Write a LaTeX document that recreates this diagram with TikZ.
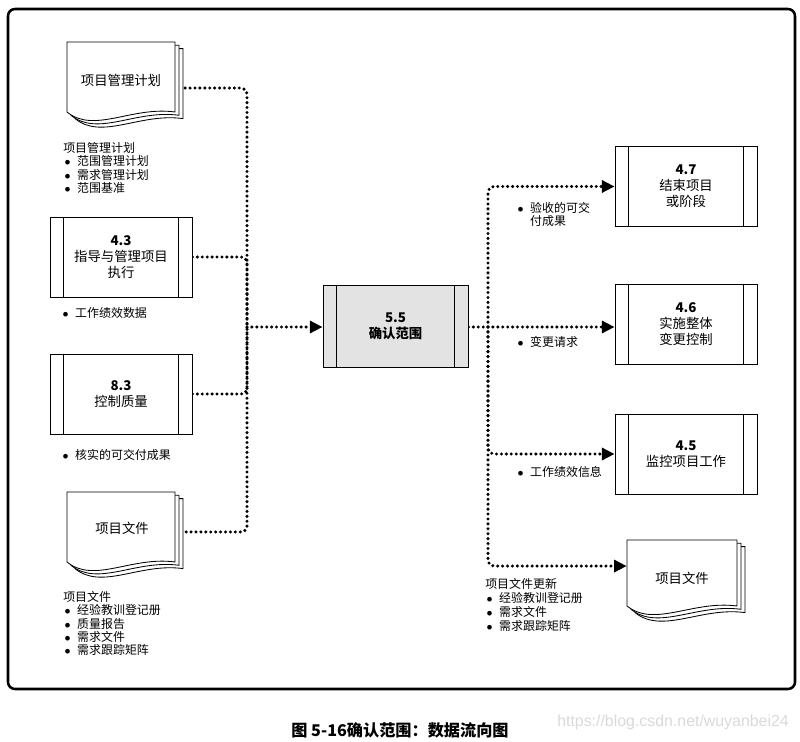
\documentclass[tikz,border=0pt]{standalone}
\usepackage{fontspec}
\setmainfont{Noto Sans CJK SC}
\newfontfamily\wmfont{Liberation Sans}
\usetikzlibrary{arrows.meta,backgrounds}

\tikzset{
  procbox/.style={draw, line width=0.6pt, fill=white, minimum width=3.55cm, minimum height=2cm,
    align=center, font=\fontsize{9.5pt}{11.5pt}\selectfont,
    path picture={
      \draw[line width=0.6pt] ([xshift=0.33cm]path picture bounding box.north west) -- ([xshift=0.33cm]path picture bounding box.south west);
      \draw[line width=0.6pt] ([xshift=-0.33cm]path picture bounding box.north east) -- ([xshift=-0.33cm]path picture bounding box.south east);}},
  doctext/.style={minimum width=2.7cm, minimum height=1.6cm, font=\fontsize{9.5pt}{11.5pt}\selectfont},
  listtext/.style={anchor=north west, inner sep=0pt, align=left, font=\fontsize{8.5pt}{9.5pt}\selectfont},
  flow/.style={line width=2.4pt, dash pattern=on 0pt off 3.5pt, line cap=round, rounded corners=4pt},
  flowarrow/.style={flow, -{Triangle[length=9pt, width=8.5pt]}},
}
\newcommand\bul{\makebox[9.9pt][l]{\hspace{1pt}$\bullet$}}
% x, y, width, height of the front sheet
\newcommand\docstack[4]{%
  \foreach \k in {2,1,0}{
    \begin{scope}[shift={(#1+4*\k,#2+3.3*\k)}]
      \draw[fill=white, line width=0.6pt] (0,0) -- (#3,0) -- (#3,#4)
        .. controls (0.6*#3,#4-6) and (0.25*#3,#4+22) .. (0,#4) -- cycle;
    \end{scope}
  }
}

\begin{document}
\begin{tikzpicture}[x=0.025cm, y=-0.025cm]
  \useasboundingbox (0,0) rectangle (800,741);

  %%%%% FRAME %%%%%
  \draw[line width=1.8pt, rounded corners=5pt] (8,9) rectangle (795,689);

  %%%%% INPUTS %%%%%
  \docstack{67}{42}{108}{70}
  \node[doctext] (pmp) at (121,80) {项目管理计划};
  \node[listtext] (pmplist) at (63,142) {项目管理计划\\ \bul 范围管理计划\\ \bul 需求管理计划\\ \bul 范围基准};

  \node[procbox] (direct) at (121,257) {\textbf{4.3}\\ 指导与管理项目\\ 执行};
  \node[listtext] (directlist) at (61,307) {\bul 工作绩效数据};

  \node[procbox] (quality) at (121,394) {\textbf{8.3}\\ 控制质量};
  \node[listtext] (qualitylist) at (61,449) {\bul 核实的可交付成果};

  \docstack{67}{492}{108}{70}
  \node[doctext] (pdoc) at (122,528) {项目文件};
  \node[listtext] (pdoclist) at (63,591) {项目文件\\ \bul 经验教训登记册\\ \bul 质量报告\\ \bul 需求文件\\ \bul 需求跟踪矩阵};

  %%%%% PROCESS %%%%%
  \node[procbox, fill=black!11, minimum width=3.625cm, minimum height=2.05cm] (scope) at (395.5,326)
    {\textbf{5.5}\\ \textbf{确认范围}};

  %%%%% OUTPUTS %%%%%
  \node[procbox, minimum height=2.02cm] (close) at (686,186.5) {\textbf{4.7}\\ 结束项目\\ 或阶段};
  \node[listtext] (closelist) at (516,202) {\bul 验收的可交\\ \hspace*{9.9pt}付成果};

  \node[procbox] (integ) at (686,324) {\textbf{4.6}\\ 实施整体\\ 变更控制};
  \node[listtext] (integlist) at (516,336) {\bul 变更请求};

  \node[procbox] (monitor) at (686,454) {\textbf{4.5}\\ 监控项目工作};
  \node[listtext] (monitorlist) at (516,466) {\bul 工作绩效信息};

  \docstack{627}{540}{110}{66}
  \node[doctext, minimum width=2.75cm] (pdocup) at (682,578) {项目文件};
  \node[listtext, font=\fontsize{8.5pt}{10pt}\selectfont] (pdocuplist) at (485,578)
    {项目文件更新\\ \bul 经验教训登记册\\ \bul 需求文件\\ \bul 需求跟踪矩阵};

  %%%%% FLOWS %%%%%
  \coordinate (lmerge) at (247,327);
  \coordinate (rsplit) at (488,327);
  \begin{scope}[on background layer]
    \draw[flow] ([yshift=-5.7pt]pmp.east) -| (lmerge);
    \draw[flow] (direct.east) -| (lmerge);
    \draw[flow] (quality.east) -| (lmerge);
    \draw[flow] ([yshift=-2.8pt]pdoc.east) -| (lmerge);
    \draw[flowarrow] (lmerge) -- (scope.west |- lmerge);

    \draw[flow] (scope.east |- rsplit) -- (rsplit);
    \draw[flowarrow] (rsplit) |- (close.west);
    \draw[flowarrow] (rsplit) -- (integ.west |- rsplit);
    \draw[flowarrow] (rsplit) |- (monitor.west);
    \draw[flowarrow] (rsplit) |- ([yshift=8.5pt]pdocup.west);
  \end{scope}

  %%%%% CAPTION %%%%%
  \node[font=\fontsize{11.5pt}{13pt}\selectfont\bfseries] (caption) at (400,730) {图 5-16确认范围：数据流向图};
  \node[font=\wmfont\fontsize{11.3pt}{13pt}\selectfont, text=black!15] (mark) at (673,722) {https://blog.csdn.net/wuyanbei24};
\end{tikzpicture}
\end{document}
